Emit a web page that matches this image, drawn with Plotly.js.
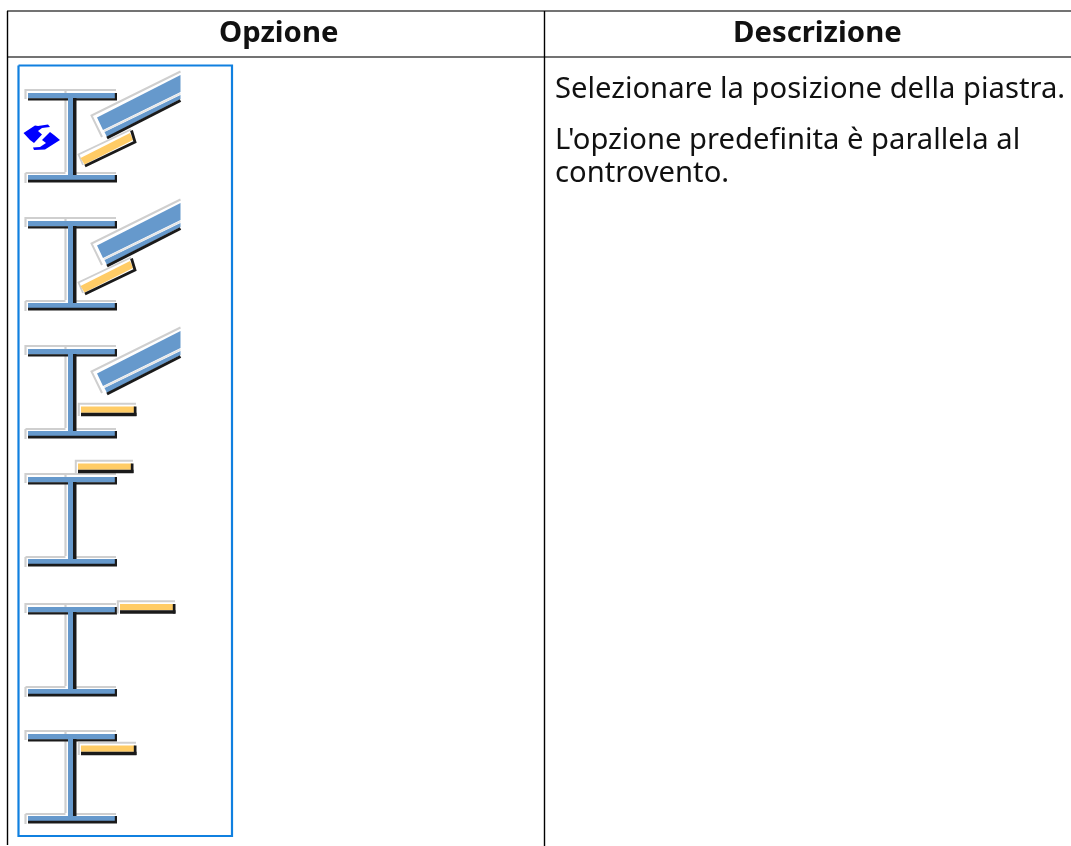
<!DOCTYPE html>
<html>
<head>
<meta charset="utf-8">
<script src="https://cdn.plot.ly/plotly-3.0.1.min.js"></script>
<style>html,body{margin:0;padding:0;background:#fff}#c{width:1071px;height:846px}
.scatterlayer{filter:blur(0.55px)}
.annotation-text-g{filter:blur(0.25px)}</style>
</head>
<body>
<div id="c"></div>
<script>
// Table content
var headerLabels = ["Opzione", "Descrizione"];
var headerX = [278, 817];
var headerY = [31.3, 31.3];
var bodyLines = ["Selezionare la posizione della piastra.", "L'opzione predefinita è parallela al", "controvento."];
var bodyX = [553, 553, 553];
var bodyY = [86.7, 138.2, 171.2];

// Table rules [x0,y0,x1,y1]
var ruleTopH = [7, 11, 1071, 11];
var ruleHeadH = [7, 57, 1071, 57];
var ruleLeftV = [7.5, 11, 7.5, 845];
var ruleMidV = [544.5, 11, 544.5, 846];
var frameBox = [18.5, 65.5, 232, 836];

// Icon rows: vertical offset of each I-beam
var beamOffsets = [0, 128, 256, 384, 514, 641];
var hasBrace = [1, 1, 1, 0, 0, 0];
var plateKind = ['d', 'd', 'h', 'h', 'h', 'h'];
var plateX = [0, 0, 78, 75, 117, 78];
var plateY = [0, 0, 403, 460, 600.5, 742];

var COLORS = {blue:'#6699cc', black:'#1a1a1a', gray:'#cfcfcf', orange:'#ffcc66', frame:'#1080e0', rule:'#444444', sync:'#0000ff'};

// Sync icon polygons (two arrows)
var syncUpperX = [23.5, 35, 38, 48, 50, 42, 38, 42, 34, 30];
var syncUpperY = [133, 125.5, 126, 124.5, 127, 128, 131, 134.5, 143, 140];
var syncLowerX = [60, 48, 45, 34, 33, 40, 46, 42, 50, 54];
var syncLowerY = [140, 148, 149.5, 150, 147.5, 147, 143, 140, 132, 135];

var traces = [];
function poly(xs, ys, color) {
  traces.push({x: xs, y: ys, mode: 'lines', fill: 'toself', fillcolor: color, line: {width: 0, color: color}, hoverinfo: 'skip', showlegend: false});
}
function seg(xs, ys, color, w) {
  traces.push({x: xs, y: ys, mode: 'lines', line: {width: w, color: color}, hoverinfo: 'skip', showlegend: false});
}

// Table rules
seg([ruleTopH[0], ruleTopH[2]], [ruleTopH[1], ruleTopH[3]], COLORS.rule, 1.5);
seg([ruleHeadH[0], ruleHeadH[2]], [ruleHeadH[1], ruleHeadH[3]], COLORS.rule, 1.5);
seg([ruleLeftV[0], ruleLeftV[2]], [ruleLeftV[1], ruleLeftV[3]], '#000000', 1.4);
seg([ruleMidV[0], ruleMidV[2]], [ruleMidV[1], ruleMidV[3]], '#000000', 1.4);
// Frame
seg([frameBox[0], frameBox[2], frameBox[2], frameBox[0], frameBox[0]],
    [frameBox[1], frameBox[1], frameBox[3], frameBox[3], frameBox[1]], COLORS.frame, 2.2);

function beam(o) {
  seg([116, 25.5, 25.5], [90 + o, 90 + o, 99 + o], COLORS.gray, 2.2);
  seg([65.5, 65.5], [91 + o, 172 + o], COLORS.gray, 2.2);
  seg([25.5, 25.5], [183 + o, 173 + o], COLORS.gray, 2.2);
  seg([25.5, 65.5], [173 + o, 173 + o], COLORS.gray, 2.2);
  seg([76, 116], [173 + o, 173 + o], COLORS.gray, 2.2);
  poly([28, 116, 116, 28], [93 + o, 93 + o, 98.5 + o, 98.5 + o], COLORS.blue);
  poly([68, 73, 73, 68], [97 + o, 97 + o, 176 + o, 176 + o], COLORS.blue);
  poly([28, 116, 116, 28], [175 + o, 175 + o, 180 + o, 180 + o], COLORS.blue);
  poly([28, 68, 68, 28], [98.3 + o, 98.3 + o, 100.5 + o, 100.5 + o], COLORS.black);
  poly([73, 117, 117, 73], [98.3 + o, 98.3 + o, 100.5 + o, 100.5 + o], COLORS.black);
  poly([114.8, 117, 117, 114.8], [93 + o, 93 + o, 100 + o, 100 + o], COLORS.black);
  poly([73, 76.5, 76.5, 73], [98 + o, 98 + o, 175 + o, 175 + o], COLORS.black);
  poly([28, 117, 117, 28], [179.7 + o, 179.7 + o, 182.5 + o, 182.5 + o], COLORS.black);
  poly([114.8, 117, 117, 114.8], [175 + o, 175 + o, 182 + o, 182 + o], COLORS.black);
}
function brace(o) {
  seg([180.5, 91.5, 102], [71.5 + o, 115.5 + o, 137 + o], COLORS.gray, 2);
  poly([97, 180.5, 180.5, 103], [117.5 + o, 75 + o, 92 + o, 130 + o], COLORS.blue);
  poly([104.5, 180.5, 180.5, 107], [132 + o, 95 + o, 99 + o, 137 + o], COLORS.blue);
  seg([180.5, 104], [93.5 + o, 131 + o], '#e6e6e6', 1.8);
  seg([107, 180.5], [138 + o, 100.5 + o], COLORS.black, 3);
}
function diagPlate(o) {
  seg([131, 78.5, 83], [129.5 + o, 154.5 + o, 165 + o], COLORS.gray, 1.8);
  poly([80.5, 130, 133, 84.5], [158 + o, 133 + o, 140 + o, 164.5 + o], COLORS.orange);
  seg([85, 135, 131.5], [166 + o, 142 + o, 130.5 + o], COLORS.black, 2.8);
}
function flatPlate(x, y) {
  seg([x + 58, x + 0.8, x + 0.8], [y + 0.8, y + 0.8, y + 13], COLORS.gray, 2);
  poly([x + 3, x + 57, x + 57, x + 3], [y + 3.5, y + 3.5, y + 9.8, y + 9.8], COLORS.orange);
  poly([x + 3, x + 58.5, x + 58.5, x + 3], [y + 9.8, y + 9.8, y + 13.2, y + 13.2], COLORS.black);
  poly([x + 55.8, x + 58.5, x + 58.5, x + 55.8], [y + 3.5, y + 3.5, y + 13, y + 13], COLORS.black);
}

beamOffsets.forEach(function (o, i) {
  beam(o);
  if (hasBrace[i]) brace(o);
  if (plateKind[i] === 'd') diagPlate(o); else flatPlate(plateX[i], plateY[i]);
});

poly(syncUpperX, syncUpperY, COLORS.sync);
poly(syncLowerX, syncLowerY, COLORS.sync);

var ann = [];
headerLabels.forEach(function (t, i) {
  ann.push({x: headerX[i], y: headerY[i], xref: 'x', yref: 'y', text: '<b>' + t + '</b>', showarrow: false, xanchor: 'center', yanchor: 'middle',
    font: {family: '"Noto Sans", "Open Sans", sans-serif', size: 29.3, color: '#111111'}});
});
bodyLines.forEach(function (t, i) {
  ann.push({x: bodyX[i], y: bodyY[i], xref: 'x', yref: 'y', text: t, showarrow: false, xanchor: 'left', yanchor: 'middle',
    font: {family: '"Noto Sans", "Open Sans", sans-serif', size: 29.2, color: '#111111'}});
});

var layout = {
  width: 1071, height: 846,
  margin: {l: 0, r: 0, t: 0, b: 0, pad: 0},
  paper_bgcolor: '#ffffff', plot_bgcolor: '#ffffff',
  showlegend: false,
  hovermode: false,
  xaxis: {range: [0, 1071], visible: false, fixedrange: true},
  yaxis: {range: [846, 0], visible: false, fixedrange: true},
  annotations: ann
};
Plotly.newPlot('c', traces, layout, {staticPlot: true, displayModeBar: false});
</script>
</body>
</html>
